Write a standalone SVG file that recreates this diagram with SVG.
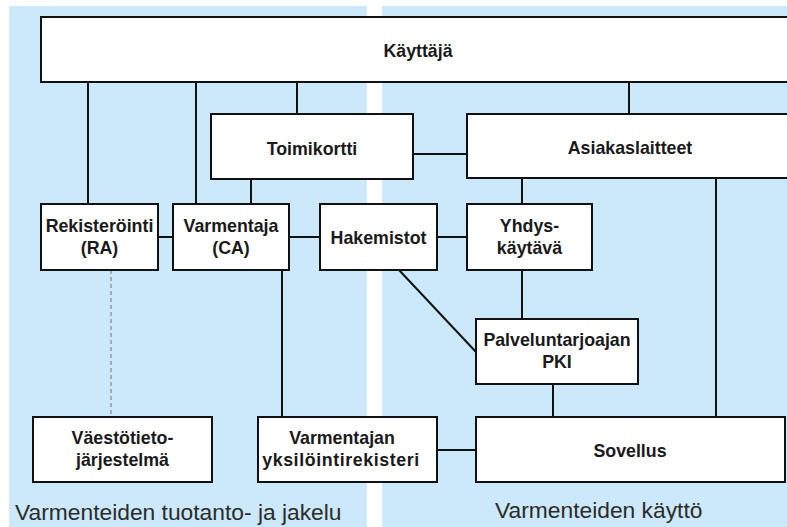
<svg xmlns="http://www.w3.org/2000/svg" width="787" height="527" viewBox="0 0 787 527">
  <style>
    .box { fill: #ffffff; stroke: #111111; stroke-width: 2; }
    .lbl { font-family: "Liberation Sans", Arial, sans-serif; font-weight: bold; font-size: 17.8px; fill: #1a1a1a; text-anchor: middle; }
    .zone { font-family: "Liberation Sans", Arial, sans-serif; font-size: 22.8px; fill: #2b2b2b; }
    .wire { stroke: #111111; stroke-width: 2; fill: none; }
    .dash { stroke: #8a9aaa; stroke-width: 1.5; stroke-dasharray: 4 3; fill: none; }
  </style>

  <!-- background zones -->
  <rect x="0" y="0" width="787" height="527" fill="#ffffff"/>
  <rect x="9" y="6" width="358" height="521" fill="#cbe9fb"/>
  <rect x="382" y="6" width="405" height="521" fill="#cbe9fb"/>

  <!-- connectors -->
  <g id="connectors">
    <line class="wire" x1="88" y1="82" x2="88" y2="204"/>
    <line class="wire" x1="196" y1="82" x2="196" y2="204"/>
    <line class="wire" x1="297" y1="82" x2="297" y2="114"/>
    <line class="wire" x1="629" y1="82" x2="629" y2="114"/>
    <line class="wire" x1="413" y1="154" x2="467" y2="154"/>
    <line class="wire" x1="251" y1="179" x2="251" y2="204"/>
    <line class="wire" x1="522" y1="178" x2="522" y2="204"/>
    <line class="wire" x1="716" y1="178" x2="716" y2="417"/>
    <line class="wire" x1="158" y1="237" x2="173" y2="237"/>
    <line class="wire" x1="289" y1="237" x2="320" y2="237"/>
    <line class="wire" x1="437" y1="237" x2="467" y2="237"/>
    <line class="wire" x1="522" y1="270" x2="522" y2="319"/>
    <line class="wire" x1="399" y1="270" x2="476" y2="352"/>
    <line class="wire" x1="553" y1="384" x2="553" y2="417"/>
    <line class="wire" x1="282" y1="270" x2="282" y2="417"/>
    <line class="wire" x1="437" y1="450" x2="476" y2="450"/>
    <line class="dash" x1="111" y1="270" x2="111" y2="417"/>
  </g>

  <g id="kayttaja">
    <rect class="box" x="41" y="17" width="760" height="65"/>
    <text class="lbl" x="418" y="57">Käyttäjä</text>
  </g>

  <g id="toimikortti">
    <rect class="box" x="211" y="114" width="202" height="65"/>
    <text class="lbl" x="312" y="155">Toimikortti</text>
  </g>

  <g id="asiakaslaitteet">
    <rect class="box" x="467" y="114" width="334" height="64"/>
    <text class="lbl" x="630" y="154">Asiakaslaitteet</text>
  </g>

  <g id="rekisterointi">
    <rect class="box" x="41" y="204" width="117" height="66"/>
    <text class="lbl" x="99.5" y="232">Rekisteröinti</text>
    <text class="lbl" x="99.5" y="254">(RA)</text>
  </g>

  <g id="varmentaja">
    <rect class="box" x="173" y="204" width="116" height="66"/>
    <text class="lbl" x="231" y="232">Varmentaja</text>
    <text class="lbl" x="231" y="254">(CA)</text>
  </g>

  <g id="hakemistot">
    <rect class="box" x="320" y="204" width="117" height="66"/>
    <text class="lbl" x="378.5" y="244">Hakemistot</text>
  </g>

  <g id="yhdyskaytava">
    <rect class="box" x="467" y="204" width="125" height="66"/>
    <text class="lbl" x="529.5" y="232">Yhdys-</text>
    <text class="lbl" x="529.5" y="254">käytävä</text>
  </g>

  <g id="palveluntarjoajan-pki">
    <rect class="box" x="476" y="319" width="162" height="65"/>
    <text class="lbl" x="557" y="346">Palveluntarjoajan</text>
    <text class="lbl" x="557" y="368">PKI</text>
  </g>

  <g id="vaestotietojarjestelma">
    <rect class="box" x="33" y="417" width="179" height="65"/>
    <text class="lbl" x="122.5" y="444">Väestötieto-</text>
    <text class="lbl" x="122.5" y="466">järjestelmä</text>
  </g>

  <g id="yksilointirekisteri">
    <rect class="box" x="258" y="417" width="179" height="65"/>
    <text class="lbl" x="342" y="444">Varmentajan</text>
    <text class="lbl" x="341" y="466" letter-spacing="0.6">yksilöintirekisteri</text>
  </g>

  <g id="sovellus">
    <rect class="box" x="476" y="417" width="309" height="65"/>
    <text class="lbl" x="630" y="457">Sovellus</text>
  </g>

  <!-- zone captions -->
  <text class="zone" x="15" y="520">Varmenteiden tuotanto- ja jakelu</text>
  <text class="zone" x="495" y="518">Varmenteiden käyttö</text>
</svg>
